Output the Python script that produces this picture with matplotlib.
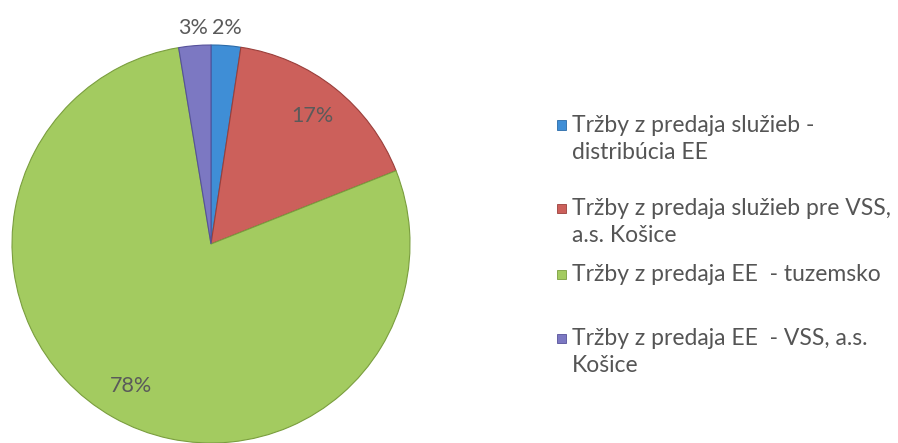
import matplotlib.pyplot as plt
from matplotlib.patches import Rectangle
import numpy as np

plt.rcParams['font.family'] = ['Lato', 'DejaVu Sans']

# ---- data ----
labels = [
    "Tržby z predaja služieb -\ndistribúcia EE",
    "Tržby z predaja služieb pre VSS,\na.s. Košice",
    "Tržby z predaja EE  - tuzemsko",
    "Tržby z predaja EE  - VSS, a.s.\nKošice",
]
shares = [2.4, 16.6, 78.4, 2.6]
colors = ["#3f8ed6", "#cc605b", "#a3cb60", "#7c78c2"]
edge_colors = ["#2a6aa8", "#9a3f3b", "#7a9e3e", "#55519a"]

fig = plt.figure(figsize=(8.98, 4.43), dpi=100)
ax = fig.add_axes([12 / 898, 0.0, 398 / 898, 398 / 443])

wedges, texts, autotexts = ax.pie(
    shares,
    colors=colors,
    startangle=90,
    counterclock=False,
    autopct=lambda p: f"{p:.0f}%",
    pctdistance=0.82,
    wedgeprops=dict(linewidth=0.8),
    textprops=dict(fontsize=15.5, color="#5a5a5a"),
)
for w, ec in zip(wedges, edge_colors):
    w.set_edgecolor(ec)

# small slices get their labels outside the pie
for w, t, s in zip(wedges, autotexts, shares):
    if s < 5:
        ang = np.deg2rad((w.theta1 + w.theta2) / 2)
        t.set_position((1.09 * np.cos(ang), 1.09 * np.sin(ang)))

ax.set_xlim(-1, 1)
ax.set_ylim(-1, 1)
ax.set_aspect("equal")
ax.axis("off")

# ---- legend, marker at the first line of each entry ----
legend_y = [125, 208, 274, 338]  # pixel rows from top
for lab, col, ec, y in zip(labels, colors, edge_colors, legend_y):
    fy = 1 - y / 443
    fig.patches.append(Rectangle((557 / 898, fy - 4.5 / 443), 9 / 898, 9 / 443,
                                 transform=fig.transFigure, facecolor=col,
                                 edgecolor=ec, linewidth=0.6))
    fig.text(572 / 898, fy + 10 / 443, lab, fontsize=16.5, color="#555555",
             va="top", ha="left", linespacing=1.38)

fig.savefig("out.png", dpi=100)
